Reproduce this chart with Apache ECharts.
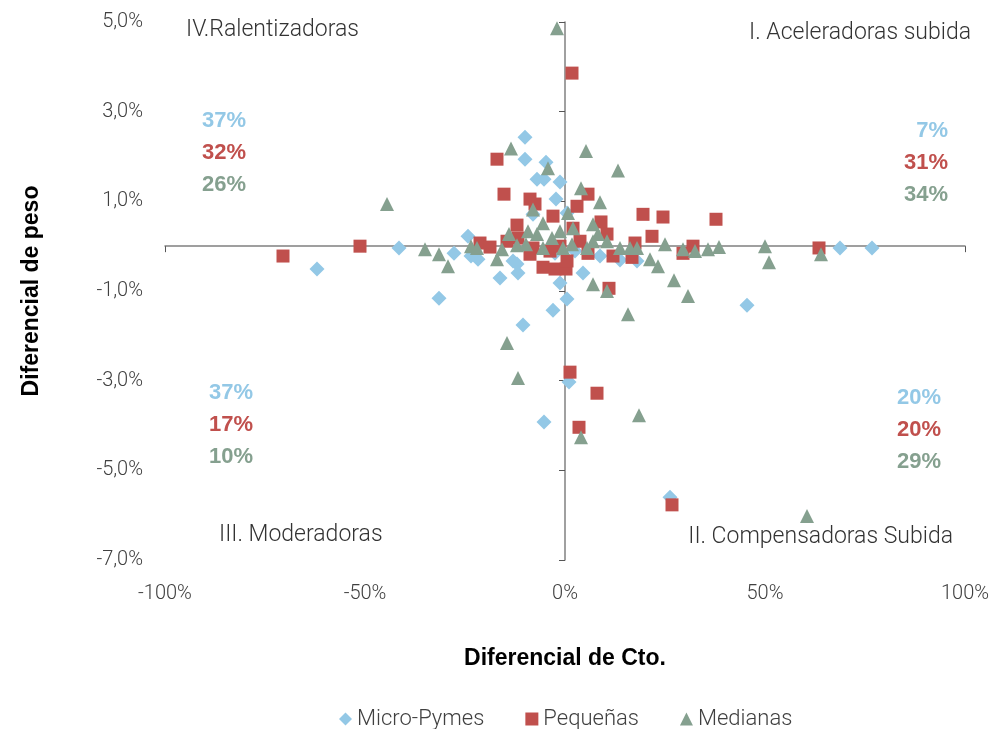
<html><head><meta charset="utf-8"><script src="https://cdn.jsdelivr.net/npm/echarts@6/dist/echarts.min.js"></script>
<style type="text/css">
html, body { height: 100%; margin: 0px; padding: 0px; background: #fff; }
</style></head><body><div id="main" style="width: 995px;height:729px;"></div><script type="text/javascript">
// [diferencial de crecimiento %, diferencial de peso %]
var microPymes = [
 [-10.0,2.43],[-10.0,1.94],[-4.75,1.87],[-7.0,1.49],[-5.25,1.49],[-1.25,1.43],[-2.25,1.05],
 [-24.25,0.22],[-41.5,-0.04],[-27.75,-0.16],[-23.5,-0.22],[-21.75,-0.29],[-13.0,-0.33],[-12.0,-0.40],
 [-11.75,-0.60],[-16.25,-0.71],[-1.25,-0.82],[4.5,-0.60],[-31.5,-1.16],[0.5,-1.18],[-3.0,-1.43],
 [-10.5,-1.76],[-62.0,-0.51],[-5.25,-3.92],[1.0,-3.03],[26.25,-5.60],[45.5,-1.32],[68.75,-0.04],
 [76.75,-0.04],[13.75,-0.31],[18.0,-0.33],[-2.5,-0.16],[-8.0,0.71],[0.5,0.74],[2.5,-0.11],[8.75,-0.22]
];
var pequenas = [
 [1.75,3.86],[-17.0,1.94],[-15.25,1.16],[-8.75,1.05],[-7.5,0.94],[-3.0,0.67],[-12.0,0.47],
 [-51.25,0.0],[-70.5,-0.22],[-21.25,0.07],[-18.75,-0.02],[-14.5,0.11],[-11.75,0.18],[-8.0,-0.04],
 [-3.75,-0.11],[-5.5,-0.47],[-2.5,-0.51],[0.25,-0.51],[1.25,-2.81],[8.0,-3.28],[3.5,-4.04],
 [26.75,-5.77],[11.0,-0.94],[5.75,1.16],[3.0,0.89],[19.5,0.71],[24.5,0.65],[9.0,0.54],
 [37.75,0.60],[32.0,0.0],[63.5,-0.04],[29.5,-0.16],[21.75,0.22],[17.5,0.07],[12.0,-0.22],
 [5.75,-0.16],[16.75,-0.25],[10.5,0.27],[0.5,-0.33],[-1.25,0.0],[3.75,0.11],[-8.75,-0.18],[2.0,0.40]
];
var medianas = [
 [-2.0,4.86],[-13.5,2.18],[-4.25,1.74],[-44.5,0.94],[5.25,2.12],[13.25,1.69],[4.0,1.29],
 [8.75,0.98],[-8.0,0.82],[-35.0,-0.07],[-31.5,-0.18],[-29.25,-0.45],[-14.5,-2.16],[-11.75,-2.94],
 [7.0,-0.85],[10.5,-1.0],[15.75,-1.52],[18.5,-3.77],[4.0,-4.26],[60.5,-6.02],[27.25,-0.76],
 [30.75,-1.11],[21.25,-0.29],[23.25,-0.45],[50.0,0.0],[51.0,-0.36],[64.0,-0.18],[25.0,0.04],
 [29.5,-0.07],[32.5,-0.11],[35.75,-0.07],[38.5,-0.02],[-23.5,0.0],[-22.0,-0.04],[-17.0,-0.29],
 [-15.75,-0.07],[-14.0,0.27],[-12.0,0.02],[-9.75,0.04],[-9.25,0.33],[-7.0,0.27],[-5.5,0.51],
 [-3.25,0.18],[-1.25,0.33],[0.75,0.74],[2.0,0.40],[7.0,0.49],[7.0,0.11],[8.25,0.27],[5.5,-0.04],
 [10.5,0.11],[13.75,-0.04],[16.25,-0.04],[18.0,-0.04],[-5.5,-0.04],[-0.5,-0.04],[1.75,0.04]
];
var seriesNames = ['Micro-Pymes', 'Pequeñas', 'Medianas'];
var quadrantNames = ['I. Aceleradoras subida', 'II. Compensadoras Subida', 'III. Moderadoras', 'IV.Ralentizadoras'];
// shares per quadrant: Micro-Pymes, Pequeñas, Medianas
var shareI = ['7%', '31%', '34%'];
var shareII = ['20%', '20%', '29%'];
var shareIII = ['37%', '17%', '10%'];
var shareIV = ['37%', '32%', '26%'];

var colors = ['#93c8e6', '#c0504d', '#85a08f'];
var font = 'Roboto';
var boldFont = 'Liberation Sans';
var txt = '#404040';
var axisGrey = '#808080';

var myChart = echarts.init(document.getElementById('main'));

// x, y: anchor point (middle of first line)
function shareBlock(list, x, y, align) {
    return list.map(function (s, i) {
        return {
            type: 'text', x: x, y: y + 32 * i,
            style: { text: s, fill: colors[i], font: 'bold 22px "' + boldFont + '"', align: align, verticalAlign: 'middle' }
        };
    });
}
function quadText(s, x, y, align) {
    return {
        type: 'text', x: x, y: y,
        style: { text: s, fill: '#333', font: '300 23px ' + font, align: align, verticalAlign: 'middle' }
    };
}

var graphics = [].concat(
    quadText(quadrantNames[3], 186, 30, 'left'),
    quadText(quadrantNames[0], 971, 33, 'right'),
    quadText(quadrantNames[2], 219, 535, 'left'),
    quadText(quadrantNames[1], 953, 537, 'right'),
    shareBlock(shareIV, 202, 121, 'left'),
    shareBlock(shareI, 948, 131, 'right'),
    shareBlock(shareIII, 209, 393, 'left'),
    shareBlock(shareII, 941, 398, 'right')
);

var option = {
    textStyle: { fontFamily: font },
    grid: { left: 165, right: 30, top: 22, bottom: 169 },
    legend: {
        top: 703, left: 334, itemGap: 41, itemWidth: 13, itemHeight: 13,
        textStyle: { fontSize: 22, fontWeight: 300, color: txt, fontFamily: font },
        data: [
            { name: seriesNames[0], icon: 'diamond' },
            { name: seriesNames[1], icon: 'rect' },
            { name: seriesNames[2], icon: 'triangle' }
        ]
    },
    xAxis: [{
        type: 'value', min: -100, max: 100, interval: 50,
        axisLine: { show: true, onZero: true, onZeroAxisIndex: 0, lineStyle: { color: axisGrey, width: 1.5 } },
        axisTick: { show: true, length: 6, lineStyle: { color: '#555' } },
        axisLabel: { show: false }, splitLine: { show: false }
    }, {
        type: 'value', min: -100, max: 100, interval: 50, position: 'bottom',
        axisLine: { show: false, onZero: false }, axisTick: { show: false }, splitLine: { show: false },
        axisLabel: { margin: 24, fontSize: 20, fontWeight: 300, color: txt, formatter: '{value}%' },
        name: 'Diferencial de Cto.', nameLocation: 'middle', nameGap: 87,
        nameTextStyle: { fontSize: 23, fontWeight: 'bold', color: '#000', fontFamily: boldFont }
    }],
    yAxis: [{
        type: 'value', min: -7, max: 5, interval: 2,
        axisLine: { show: true, onZero: true, onZeroAxisIndex: 0, lineStyle: { color: axisGrey, width: 1.5 } },
        axisTick: { show: true, length: 6, lineStyle: { color: '#555' } },
        axisLabel: { show: false }, splitLine: { show: false }
    }, {
        type: 'value', min: -7, max: 5, interval: 2, position: 'left',
        axisLine: { show: false, onZero: false }, axisTick: { show: false }, splitLine: { show: false },
        axisLabel: {
            margin: 22, fontSize: 20, fontWeight: 300, color: txt,
            formatter: function (v) { return v.toFixed(1).replace('.', ',') + '%'; }
        },
        name: 'Diferencial de peso', nameLocation: 'middle', nameGap: 122, nameRotate: 90,
        nameTextStyle: { fontSize: 23, fontWeight: 'bold', color: '#000', fontFamily: boldFont }
    }],
    series: [
        { name: seriesNames[0], type: 'scatter', symbol: 'diamond', symbolSize: 15, data: microPymes, itemStyle: { color: colors[0], opacity: 1 } },
        { name: seriesNames[1], type: 'scatter', symbol: 'rect', symbolSize: 13, data: pequenas, itemStyle: { color: colors[1], opacity: 1 } },
        { name: seriesNames[2], type: 'scatter', symbol: 'triangle', symbolSize: 14, data: medianas, itemStyle: { color: colors[2], opacity: 1 } }
    ],
    graphic: graphics
};
myChart.setOption(option);
</script></body></html>
